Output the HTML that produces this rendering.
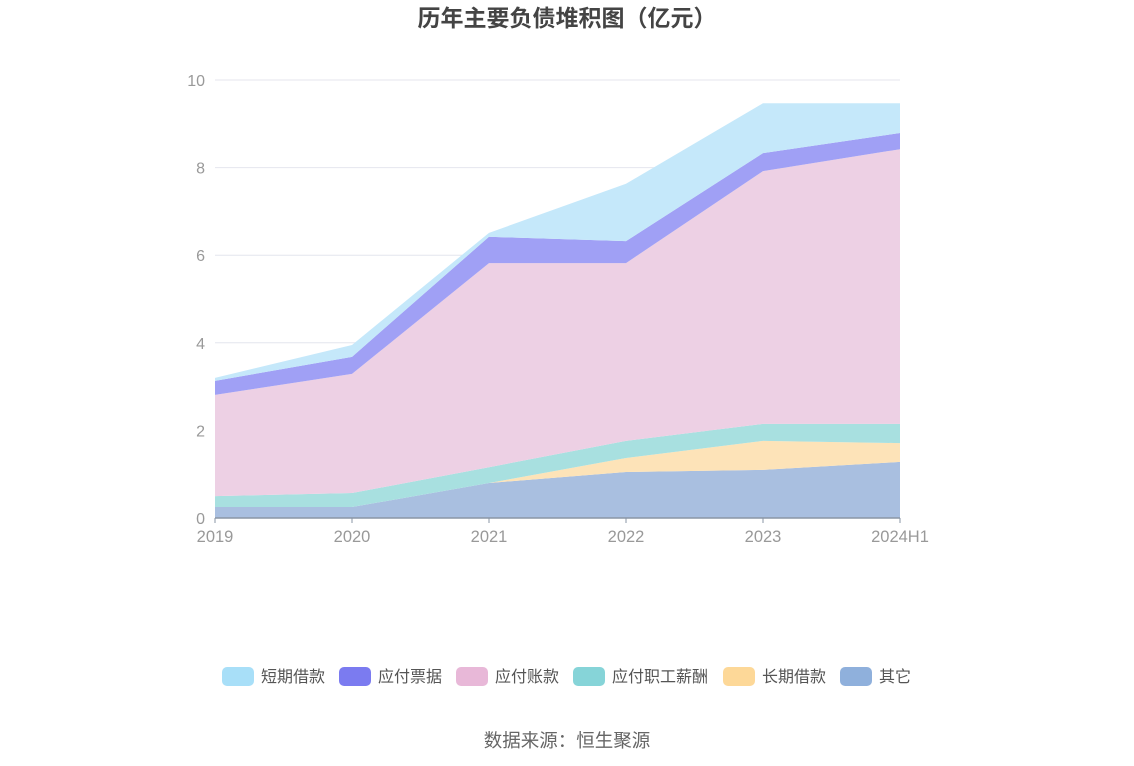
<!DOCTYPE html>
<html><head><meta charset="utf-8"><style>
body{margin:0;background:#fff;font-family:"Liberation Sans","Noto Sans CJK SC",sans-serif;}
#wrap{position:relative;width:1134px;height:766px;overflow:hidden}
</style></head><body>
<div id="wrap">
<svg id="chart" width="1134" height="766">
<text x="567" y="26" text-anchor="middle" font-size="23" font-weight="bold" fill="#444">历年主要负债堆积图（亿元）</text>
<g id="grid"></g><g id="areas"></g><g id="axes"></g><g id="legend"></g>
<text x="567" y="747" text-anchor="middle" font-size="18.5" fill="#666">数据来源：恒生聚源</text>
</svg></div>
<script>
const categories=["2019","2020","2021","2022","2023","2024H1"];
const seriesNames=["其它","长期借款","应付职工薪酬","应付账款","应付票据","短期借款"];
const other=[0.25,0.25,0.8,1.05,1.1,1.28];
const longLoan=[0,0,0,0.32,0.66,0.43];
const salary=[0.25,0.32,0.36,0.39,0.39,0.44];
const payable=[2.31,2.72,4.66,4.06,5.77,6.27];
const notes=[0.32,0.39,0.6,0.5,0.41,0.37];
const shortLoan=[0.07,0.27,0.09,1.31,1.14,0.68];
const yTicks=[0,2,4,6,8,10];
const fills=["#a9bfe0","#fde3b8","#a8e0e0","#edd0e4","#a0a0f5","#c5e8fa"];
const legendColors=["#a8dff8","#7b7bf0","#e8b8d8","#86d4d8","#fdd898","#8fb0dc"];
const legendNames=["短期借款","应付票据","应付账款","应付职工薪酬","长期借款","其它"];
const NS="http://www.w3.org/2000/svg";
const x0=215,x1=900,yb=518,yt=80,ymax=10;
const X=i=>x0+(x1-x0)*i/(categories.length-1);
const Y=v=>yb-(yb-yt)*v/ymax;
function mk(t,a,p){const e=document.createElementNS(NS,t);for(const k in a)e.setAttribute(k,a[k]);p.appendChild(e);return e;}
const grid=document.getElementById('grid');
yTicks.forEach(v=>{
 const l=mk('line',{x1:x0,x2:x1,y1:Y(v),y2:Y(v),stroke:'#e4e6ee','stroke-width':1},grid);
 
 
 const t=mk('text',{x:205,y:Y(v)+6,'text-anchor':'end','font-size':16,fill:'#999'},grid);
 t.textContent=v;
 
 
});
const series=[other,longLoan,salary,payable,notes,shortLoan];
const areas=document.getElementById('areas');
let base=categories.map(()=>0);
series.forEach((s,si)=>{
 const top=base.map((b,i)=>b+s[i]);
 let d='M'+top.map((v,i)=>X(i)+','+Y(v)).join(' L');
 for(let i=categories.length-1;i>=0;i--)d+=' L'+X(i)+','+Y(base[i]);
 const p=mk('path',{d:d+'Z',fill:fills[si]},areas);
 
 
 base=top;
});
const axes=document.getElementById('axes');
const ax=mk('line',{x1:x0,x2:x1,y1:yb,y2:yb,stroke:'#8a95a5','stroke-width':1.5},axes);


categories.forEach((c,i)=>{
 mk('line',{x1:X(i),x2:X(i),y1:yb,y2:yb+5,stroke:'#8a95a5'},axes);
 const t=mk('text',{x:X(i),y:542,'text-anchor':'middle','font-size':16.5,fill:'#999'},axes);
 t.textContent=c;
 
 
});
const lg=document.getElementById('legend');
const lx=[222,339,456,573,723,840];
legendNames.forEach((n,i)=>{
 const g=mk('g',{},lg);
 
 
 mk('rect',{x:lx[i],y:667,width:32,height:19,rx:5,fill:legendColors[i]},g);
 const t=mk('text',{x:lx[i]+39,y:682,'font-size':16,fill:'#555'},g);
 t.textContent=n;
});
</script>
</body></html>
